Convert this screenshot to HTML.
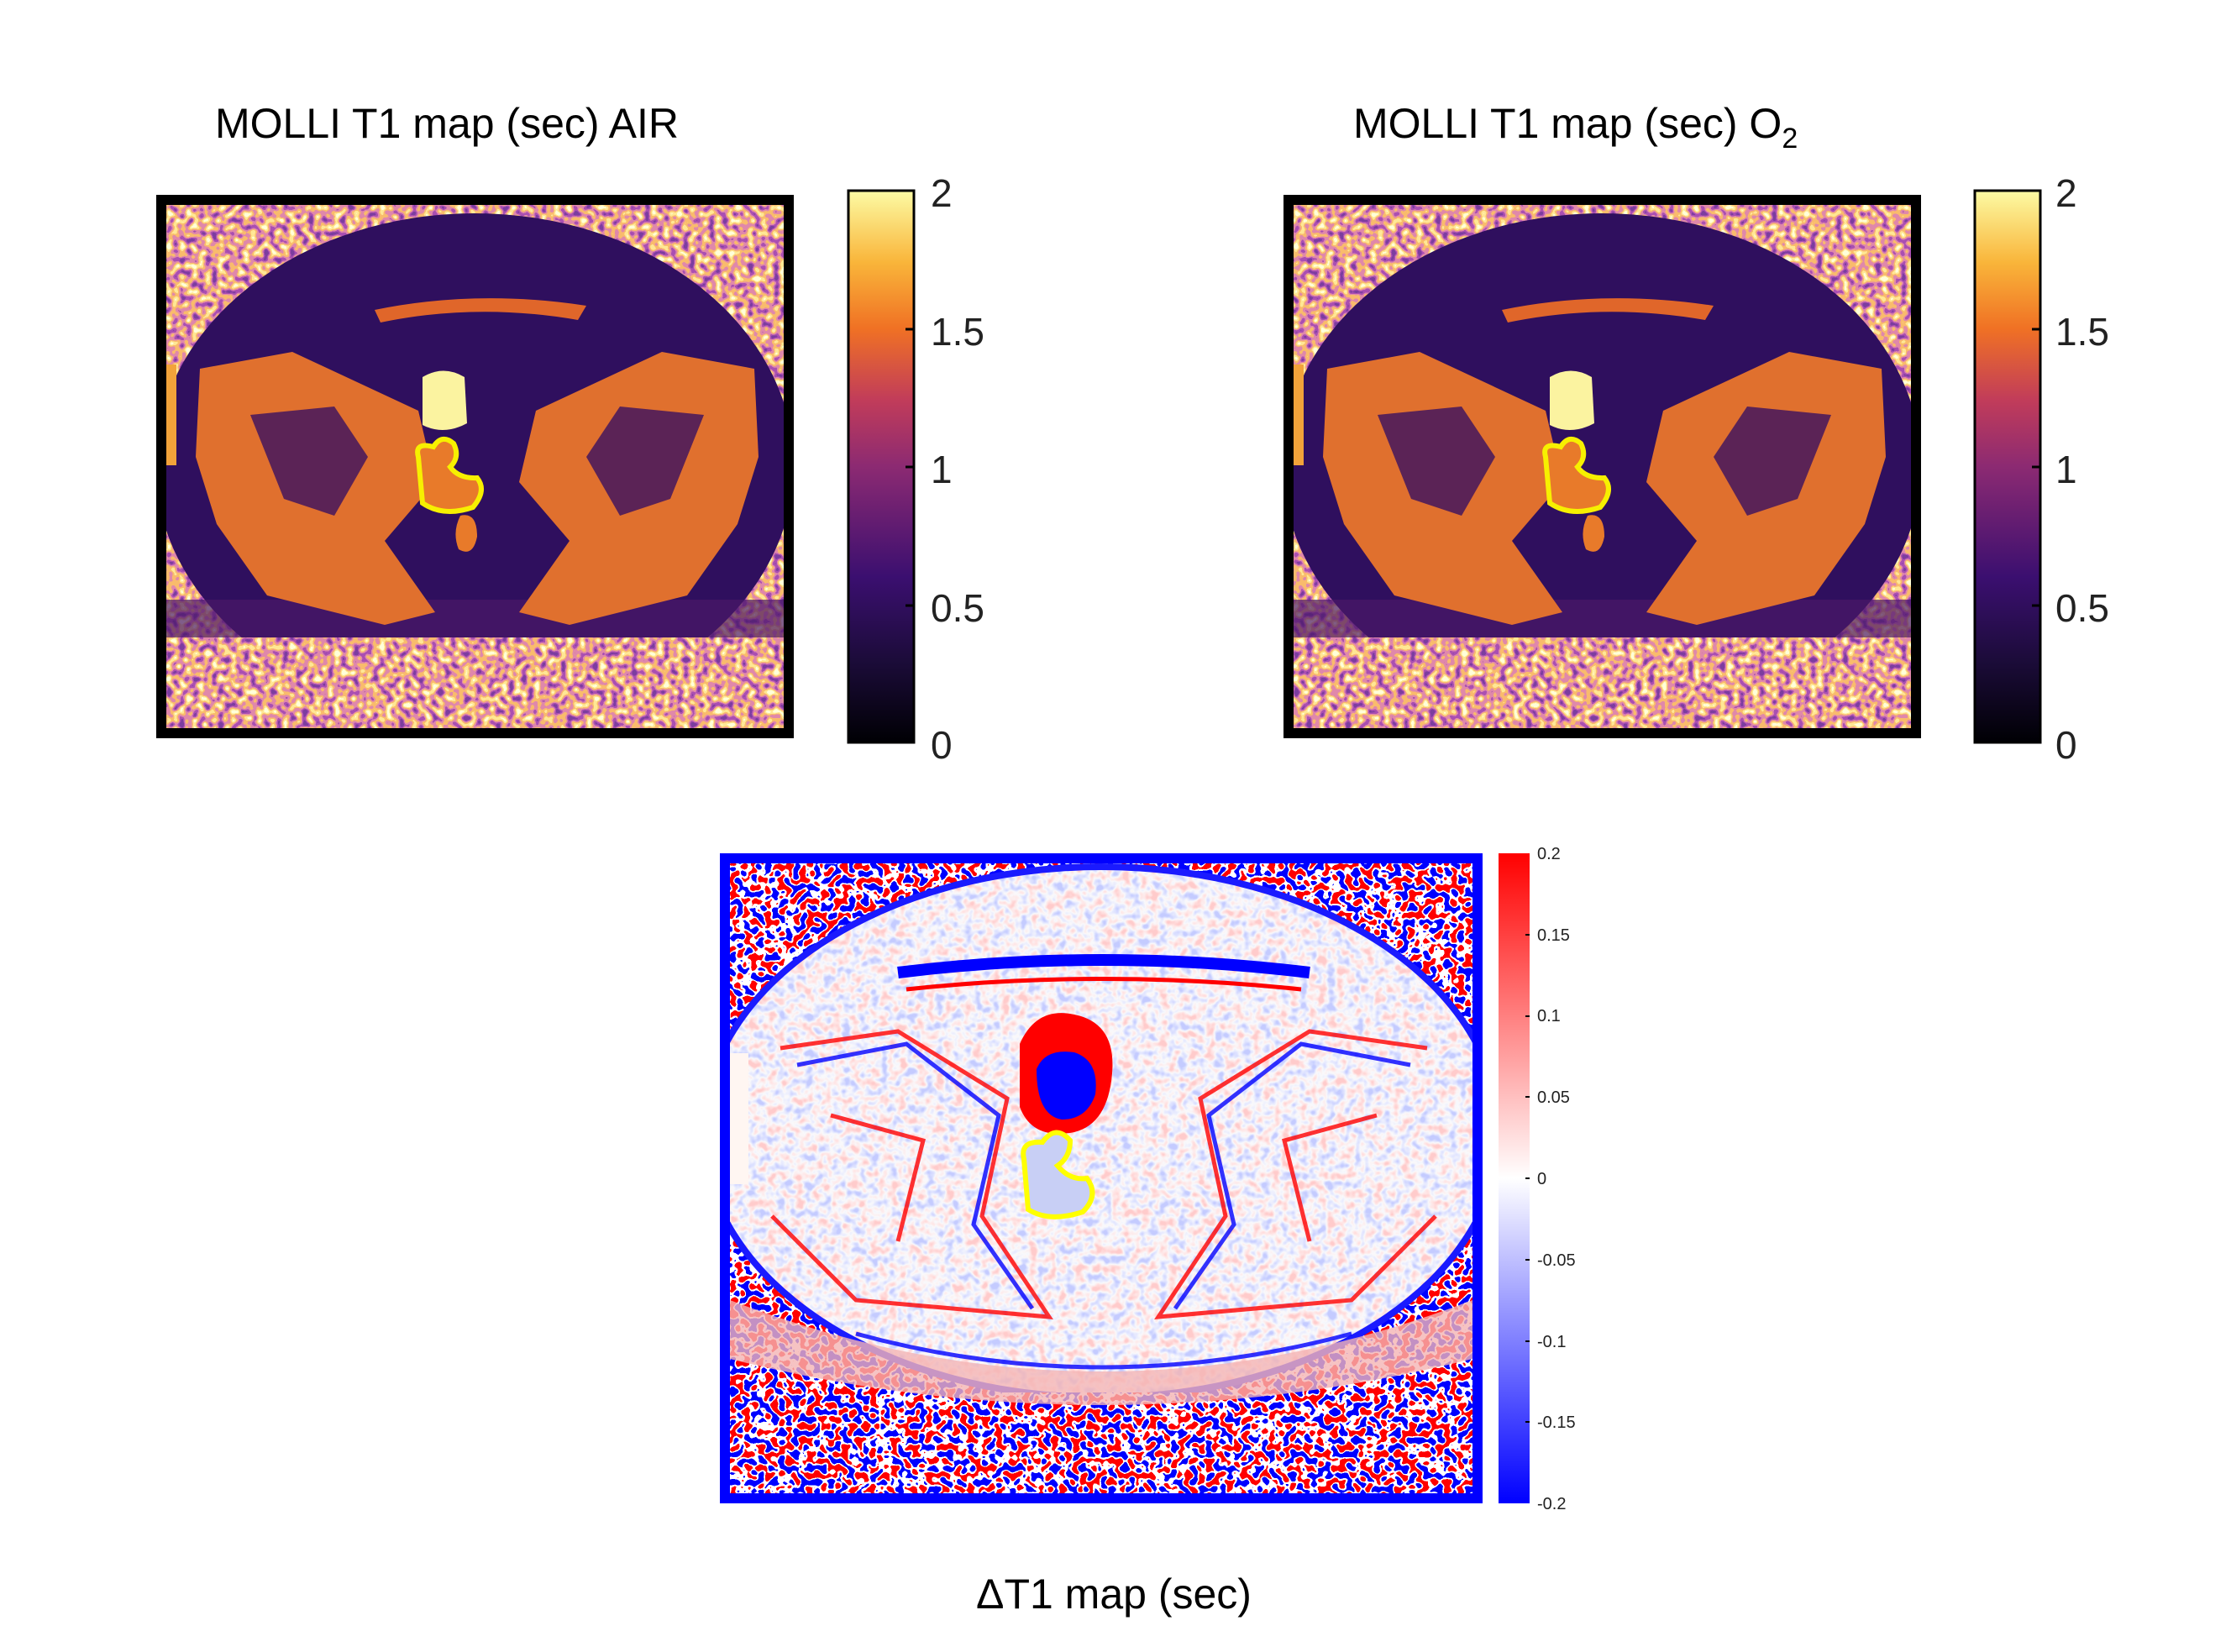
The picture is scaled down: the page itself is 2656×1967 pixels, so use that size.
<!DOCTYPE html>
<html><head><meta charset="utf-8"><style>
html,body{margin:0;padding:0;background:#fff;}
svg{display:block;}
text{font-family:"Liberation Sans",sans-serif;}
.ttl{font-family:"Liberation Sans",sans-serif;font-size:50px;fill:#000;}
</style></head><body>
<svg width="2656" height="1967" viewBox="0 0 2656 1967" xmlns="http://www.w3.org/2000/svg">
<defs>
<filter id="speck" x="0" y="0" width="100%" height="100%">
<feTurbulence type="fractalNoise" baseFrequency="0.13" numOctaves="1" seed="3"/>
<feColorMatrix type="matrix" values="1.8 0 0 0 -0.4  1.8 0 0 0 -0.4  1.8 0 0 0 -0.4  0 0 0 0 1"/>
<feComponentTransfer>
<feFuncR type="discrete" tableValues="0.2 0.4 0.75 0.95 1 1"/>
<feFuncG type="discrete" tableValues="0.05 0.08 0.25 0.5 0.8 1"/>
<feFuncB type="discrete" tableValues="0.35 0.45 0.4 0.15 0.3 0.7"/>
</feComponentTransfer>
</filter>
<filter id="speck2" x="0" y="0" width="100%" height="100%">
<feTurbulence type="fractalNoise" baseFrequency="0.12" numOctaves="1" seed="7"/>
<feColorMatrix type="matrix" values="1.8 0 0 0 -0.4  1.8 0 0 0 -0.4  1.8 0 0 0 -0.4  0 0 0 0 1"/>
<feComponentTransfer>
<feFuncR type="discrete" tableValues="0 0 1 1 1"/>
<feFuncG type="discrete" tableValues="0 0 1 0 0"/>
<feFuncB type="discrete" tableValues="1 1 1 0 0"/>
</feComponentTransfer>
</filter>
<filter id="pale" x="0" y="0" width="100%" height="100%">
<feTurbulence type="fractalNoise" baseFrequency="0.09" numOctaves="2" seed="11"/>
<feColorMatrix type="matrix" values="2 0 0 0 -0.5  2 0 0 0 -0.5  2 0 0 0 -0.5  0 0 0 0 1"/>
<feComponentTransfer>
<feFuncR type="table" tableValues="0.55 0.75 0.95 1 1"/>
<feFuncG type="table" tableValues="0.6 0.78 0.95 0.78 0.6"/>
<feFuncB type="table" tableValues="1 1 0.97 0.78 0.6"/>
</feComponentTransfer>
</filter>
<linearGradient id="inf" x1="0" y1="1" x2="0" y2="0">
<stop offset="0" stop-color="#000004"/>
<stop offset="0.15" stop-color="#1c0c3a"/>
<stop offset="0.3" stop-color="#3b0f70"/>
<stop offset="0.5" stop-color="#8c2a72"/>
<stop offset="0.62" stop-color="#c13c5a"/>
<stop offset="0.75" stop-color="#f07124"/>
<stop offset="0.87" stop-color="#f9b53a"/>
<stop offset="1" stop-color="#fcfba4"/>
</linearGradient>
<linearGradient id="bwr" x1="0" y1="1" x2="0" y2="0">
<stop offset="0" stop-color="#0000ff"/>
<stop offset="0.5" stop-color="#ffffff"/>
<stop offset="1" stop-color="#ff0000"/>
</linearGradient>
<clipPath id="cl1"><rect x="0" y="0" width="735" height="623"/></clipPath>
<symbol id="t1" viewBox="0 0 759 647" width="759" height="647">
<rect x="0" y="0" width="759" height="647" fill="#000"/>
<g transform="translate(12,12)" clip-path="url(#cl1)">
<rect x="0" y="0" width="735" height="623" filter="url(#speck)"/>
<ellipse cx="367" cy="310" rx="380" ry="300" fill="#2f0f5e"/>
<rect x="0" y="470" width="735" height="45" fill="#4a1868" opacity="0.7"/>
<rect x="0" y="515" width="735" height="108" filter="url(#speck)"/>
<path d="M248 125 Q370 100 500 120 L490 137 Q370 116 255 140Z" fill="#e0662a"/>
<path d="M40 195 L150 175 L300 245 L320 330 L260 400 L320 485 L260 500 L120 465 L60 380 L35 300Z" fill="#e0702e"/>
<path d="M700 195 L590 175 L440 245 L420 330 L480 400 L420 485 L480 500 L620 465 L680 380 L705 300Z" fill="#e0702e"/>
<path d="M100 250 L200 240 L240 300 L200 370 L140 350Z" fill="#3a1060" opacity="0.8"/>
<path d="M640 250 L540 240 L500 300 L540 370 L600 350Z" fill="#3a1060" opacity="0.8"/>
<rect x="0" y="190" width="12" height="120" fill="#f2a33a"/>
<path d="M305 205 Q330 190 355 205 L358 260 Q330 275 305 262Z" fill="#fbf3a0"/>
<path d="M300 300 Q295 282 318 288 Q328 272 342 284 Q350 300 338 312 Q348 326 370 325 Q382 340 365 360 Q330 372 305 355 Z" fill="#e87a2a" stroke="#f7f000" stroke-width="6"/>
<path d="M350 370 Q370 365 370 395 Q365 420 348 410 Q340 390 350 370Z" fill="#e87a2a"/>
</g>
</symbol>
<clipPath id="cl2"><rect x="0" y="0" width="884" height="750"/></clipPath>
<clipPath id="bodyc"><ellipse cx="442" cy="320" rx="470" ry="312"/></clipPath>
</defs>
<rect width="2656" height="1967" fill="#fff"/>

<text class="ttl" x="256" y="164">MOLLI T1 map (sec) AIR</text>
<use href="#t1" x="186" y="232" width="759" height="647"/>
<rect x="1010" y="227" width="78" height="657" fill="url(#inf)" stroke="#000" stroke-width="3"/>
<g font-size="46" fill="#222">
<text x="1108" y="246">2</text><text x="1108" y="411">1.5</text><text x="1108" y="575">1</text><text x="1108" y="740">0.5</text><text x="1108" y="903">0</text>
</g>
<g stroke="#000" stroke-width="3"><line x1="1078" y1="392" x2="1088" y2="392"/><line x1="1078" y1="556" x2="1088" y2="556"/><line x1="1078" y1="721" x2="1088" y2="721"/></g>

<text class="ttl" x="1611" y="164">MOLLI T1 map (sec) O<tspan font-size="34" dy="12">2</tspan></text>
<use href="#t1" x="1528" y="232" width="759" height="647"/>
<rect x="2351" y="227" width="78" height="657" fill="url(#inf)" stroke="#000" stroke-width="3"/>
<g font-size="46" fill="#222">
<text x="2447" y="246">2</text><text x="2447" y="411">1.5</text><text x="2447" y="575">1</text><text x="2447" y="740">0.5</text><text x="2447" y="903">0</text>
</g>
<g stroke="#000" stroke-width="3"><line x1="2419" y1="392" x2="2429" y2="392"/><line x1="2419" y1="556" x2="2429" y2="556"/><line x1="2419" y1="721" x2="2429" y2="721"/></g>

<rect x="857" y="1016" width="908" height="774" fill="#0000ff"/>
<g transform="translate(869,1028)" clip-path="url(#cl2)">
<rect width="884" height="750" filter="url(#speck2)"/>
<ellipse cx="442" cy="320" rx="478" ry="320" fill="#1a1aff"/>
<rect x="0" y="0" width="884" height="750" filter="url(#pale)" clip-path="url(#bodyc)"/>
<rect x="0" y="630" width="884" height="120" filter="url(#speck2)"/>
<path d="M0 520 Q442 690 884 520 L884 590 Q442 700 0 590Z" fill="#f4b4b4" opacity="0.8"/>
<path d="M200 130 Q442 100 690 130" stroke="#0000ff" stroke-width="14" fill="none"/>
<path d="M210 150 Q442 125 680 150" stroke="#ff0000" stroke-width="5" fill="none"/>
<g stroke="#ff0000" stroke-width="5" fill="none" opacity="0.8">
<path d="M60 220 L200 200 L330 280 L300 420 L380 540 L150 520 L50 420"/>
<path d="M830 220 L690 200 L560 280 L590 420 L510 540 L740 520 L840 420"/>
<path d="M120 300 L230 330 L200 450"/><path d="M770 300 L660 330 L690 450"/>
</g>
<g stroke="#0000ff" stroke-width="5" fill="none" opacity="0.8">
<path d="M80 240 L210 215 L320 300 L290 430 L360 530"/>
<path d="M810 240 L680 215 L570 300 L600 430 L530 530"/>
<path d="M150 560 Q442 640 740 560"/>
</g>
<path d="M345 215 Q365 170 410 180 Q460 190 455 250 Q450 310 410 320 Q360 330 345 290Z" fill="#ff0000"/>
<path d="M365 245 Q375 220 410 225 Q440 235 435 275 Q425 305 395 305 Q365 300 365 245Z" fill="#0000ff"/>
<rect x="0" y="226" width="22" height="156" fill="#fff6f2"/>
<path d="M350 352 Q345 330 372 332 Q388 310 405 330 Q405 350 390 360 Q405 378 425 375 Q440 395 420 415 Q380 428 355 412 Z" fill="#c8cff5" stroke="#ffff00" stroke-width="6"/>
</g>
<rect x="1784" y="1016" width="37" height="774" fill="url(#bwr)"/>
<g font-size="20" fill="#222">
<text x="1830" y="1023">0.2</text><text x="1830" y="1120">0.15</text><text x="1830" y="1216">0.1</text><text x="1830" y="1313">0.05</text><text x="1830" y="1410">0</text><text x="1830" y="1507">-0.05</text><text x="1830" y="1604">-0.1</text><text x="1830" y="1700">-0.15</text><text x="1830" y="1797">-0.2</text>
</g>
<g stroke="#000" stroke-width="2"><line x1="1816" y1="1113" x2="1821" y2="1113"/><line x1="1816" y1="1210" x2="1821" y2="1210"/><line x1="1816" y1="1306" x2="1821" y2="1306"/><line x1="1816" y1="1403" x2="1821" y2="1403"/><line x1="1816" y1="1500" x2="1821" y2="1500"/><line x1="1816" y1="1597" x2="1821" y2="1597"/><line x1="1816" y1="1693" x2="1821" y2="1693"/></g>
<text class="ttl" x="1326" y="1915" text-anchor="middle">ΔT1 map (sec)</text>
</svg>
</body></html>
